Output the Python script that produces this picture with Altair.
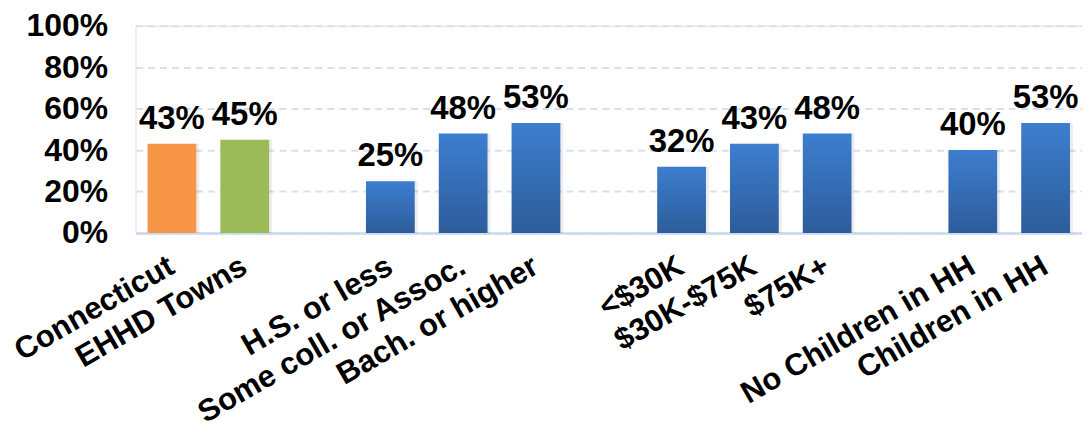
import altair as alt
import pandas as pd

categories = ["Connecticut", "EHHD Towns",
              "H.S. or less", "Some coll. or Assoc.", "Bach. or higher",
              "<$30K", "$30K-$75K", "$75K+",
              "No Children in HH", "Children in HH"]
values = [0.43, 0.45, 0.25, 0.48, 0.53, 0.32, 0.43, 0.48, 0.40, 0.53]
groups = ["Connecticut", "EHHD", "Blue", "Blue", "Blue", "Blue", "Blue", "Blue", "Blue", "Blue"]

# axis order with empty gap slots between the groups
x_domain = ["Connecticut", "EHHD Towns", " ",
            "H.S. or less", "Some coll. or Assoc.", "Bach. or higher", "  ",
            "<$30K", "$30K-$75K", "$75K+", "   ",
            "No Children in HH", "Children in HH"]
y_ticks = [0, 0.2, 0.4, 0.6, 0.8, 1.0]

df = pd.DataFrame({"cat": categories, "val": values, "grp": groups})

FONT = "Liberation Sans"

x_enc = alt.X("cat:N", scale=alt.Scale(domain=x_domain, paddingInner=0.33, paddingOuter=0.165),
              axis=alt.Axis(title=None, labelAngle=-30, labelAlign="right", labelBaseline="middle",
                            labelFont=FONT, labelFontSize=31, labelFontWeight="bold",
                            labelColor="#000000", labelPadding=31, ticks=False,
                            domainColor="#C9D8EE", domainWidth=2.5, grid=False,
                            labelOverlap=False, labelLimit=0))
y_enc = alt.Y("val:Q", scale=alt.Scale(domain=[0, 1], nice=False),
              axis=alt.Axis(title=None, values=y_ticks, format=".0%", labelFont=FONT,
                            labelFontSize=32, labelFontWeight="bold", labelColor="#000000",
                            labelPadding=28, ticks=False, domain=False,
                            grid=True, gridColor="#D5E1F1", gridWidth=2, gridDash=[7, 5]))

base = alt.Chart(df)

shadow = base.mark_bar(color="#000000", opacity=0.07, xOffset=3).encode(x=x_enc, y=y_enc)

flat = base.transform_filter(alt.datum.grp != "Blue").mark_bar().encode(
    x=x_enc, y=y_enc,
    color=alt.Color("grp:N", scale=alt.Scale(domain=["Connecticut", "EHHD"],
                                             range=["#F79646", "#9BBB59"]), legend=None))

blue = base.transform_filter(alt.datum.grp == "Blue").mark_bar(
    color=alt.Gradient(gradient="linear", x1=0, y1=0, x2=0, y2=1,
                       stops=[alt.GradientStop(color="#3D7ECF", offset=0),
                              alt.GradientStop(color="#2D5C9A", offset=1)])
).encode(x=x_enc, y=y_enc)

labels = base.mark_text(font=FONT, fontSize=33, fontWeight="bold", color="#000000",
                        baseline="alphabetic", dy=-15).encode(
    x=x_enc, y=y_enc, text=alt.Text("val:Q", format=".0%"))

chart = alt.layer(shadow, flat, blue, labels).properties(
    width=950, height=208,
    autosize=alt.AutoSizeParams(type="none"),
    padding={"left": 128, "top": 17, "right": 0, "bottom": 200},
).configure_view(stroke=None).configure(background="#FFFFFF")

chart.save("out.html", embed_options={"renderer": "svg", "actions": False})
